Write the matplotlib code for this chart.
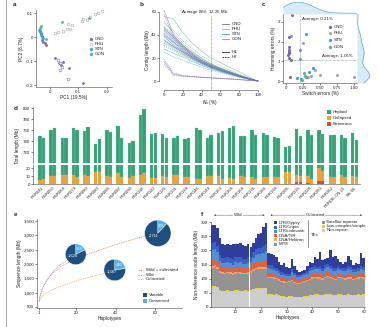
import numpy as np
import matplotlib
matplotlib.use('Agg')
import matplotlib.pyplot as plt
from matplotlib.lines import Line2D
from matplotlib.patches import Rectangle

W, H = 379, 327

# ---- panel a: PCA ----
a_cnd_x = [-0.029, -0.024, -0.018, -0.012, 0.018, 0.047, 0.068, 0.118, 0.040, 0.033]
a_cnd_y = [-0.012, -0.020, -0.026, -0.033, -0.089, -0.103, -0.130, -0.190, -0.115, -0.108]
a_cnd2_x = [0.029, 0.035, 0.041, 0.035, 0.065]
a_cnd2_y = [-0.096, -0.110, -0.124, -0.137, -0.175]
a_phu_x = [0.018, 0.029, 0.047, 0.059, 0.071, 0.065, 0.077, 0.112, 0.118, 0.130, 0.141, 0.159, 0.171, 0.183]
a_phu_y = [0.015, 0.019, 0.025, 0.032, 0.032, 0.053, 0.050, 0.067, 0.074, 0.071, 0.082, 0.096, 0.101, 0.108]
a_stn_x = [-0.038, -0.036, -0.035, -0.033, -0.031, -0.030, -0.028, -0.027, -0.025, -0.034]
a_stn_y = [0.030, 0.024, 0.020, 0.016, 0.012, 0.008, 0.005, 0.002, -0.002, 0.027]
a_gon_x = [-0.033, 0.041, 0.139, -0.012, -0.036]
a_gon_y = [0.046, 0.062, 0.079, -0.010, 0.036]

# ---- panel b: Nx curves ----
b_nx = [0, 10, 20, 30, 40, 50, 60, 70, 80, 90, 100]
b_cnd = [[62, 40, 31, 24, 18, 14, 11, 8, 5, 2.5, 0],
         [58, 38, 30, 23, 17, 13, 10, 7.5, 4.5, 2, 0],
         [44, 36, 29, 22, 17, 13, 10, 7, 4, 2, 0],
         [41, 34, 27, 21, 16, 12, 9, 6.5, 4, 1.8, 0],
         [36, 30, 25, 20, 16, 12.5, 9.5, 7, 4.5, 2, 0],
         [19, 7, 5, 4, 3.5, 3, 2.5, 2, 1.5, 0.8, 0],
         [17, 6, 4.5, 3.8, 3.2, 2.8, 2.3, 1.8, 1.2, 0.6, 0],
         [15, 5, 4, 3.5, 3, 2.5, 2, 1.5, 1, 0.5, 0]]
b_phu = [[52, 42, 33, 26, 20, 15, 11, 8, 5, 2.5, 0],
         [48, 40, 31, 24, 19, 14, 10.5, 7.5, 4.5, 2, 0],
         [46, 37, 29, 23, 18, 14, 11, 8, 5, 2.2, 0],
         [43, 35, 28, 22, 17, 13.5, 10, 7, 4.2, 1.9, 0],
         [40, 33, 26, 21, 16, 12, 9, 6.5, 4, 1.8, 0],
         [38, 32, 25, 20, 15.5, 12, 9.5, 7, 4.3, 2, 0],
         [34, 29, 24, 19, 15, 11.5, 8.5, 6, 3.8, 1.7, 0],
         [30, 26, 22, 18, 14, 11, 8.5, 6, 3.6, 1.6, 0]]
b_stn = [[47, 38, 30, 23, 18, 14, 10.5, 7.5, 4.5, 2, 0],
         [42, 34, 27, 21, 16.5, 12.5, 9.5, 6.8, 4.2, 1.9, 0],
         [39, 31, 26, 21, 16, 12, 9, 6.5, 4, 1.8, 0],
         [33, 28, 23, 19, 15, 11.5, 8.8, 6.3, 4, 1.8, 0],
         [28, 24, 21, 17, 13.5, 10.5, 8, 5.8, 3.6, 1.6, 0],
         [25, 21, 18, 15, 12, 9.5, 7.3, 5.3, 3.3, 1.5, 0]]
b_gon = [[56, 54, 42, 33, 26, 20, 16, 12, 8, 3.5, 0],
         [50, 44, 35, 28, 22, 17, 13, 9.5, 6, 2.8, 0],
         [45, 39, 31, 25, 19.5, 15, 11.5, 8.3, 5.2, 2.3, 0],
         [40, 34, 28, 22, 17.5, 13.5, 10.5, 7.5, 4.6, 2, 0],
         [35, 30, 25, 20, 16, 12.5, 9.5, 7, 4.3, 1.9, 0],
         [31, 27, 23, 19, 15, 11.5, 9, 6.5, 4, 1.8, 0]]
b_n50 = 50

# ---- panel c: phasing errors ----
c_cnd_x = [0.093, 0.039, 0.040, 0.038, 0.041, 0.034, 0.044, 0.074, 0.059, 0.045]
c_cnd_y = [3.35, 2.22, 1.74, 1.57, 1.40, 1.32, 1.15, 1.07, 0.20, 1.48]
c_phu_x = [0.074, 0.255, 0.43, 0.50, 0.746, 1.00, 0.33, 0.37]
c_phu_y = [2.28, 1.91, 0.56, 0.30, 0.30, 0.22, 0.20, 0.28]
c_stn_x = [0.29, 0.157, 0.338, 0.40, 0.30, 0.22]
c_stn_y = [2.37, 0.14, 0.47, 0.64, 0.18, 0.12]
c_gon_x = [0.206, 0.206, 0.27, 0.23, 0.28]
c_gon_y = [1.57, 1.10, 0.42, 0.05, 0.28]
c_avg_switch = 0.21
c_avg_hamming = 1.05

# ---- panel d: assembly length per accession ----
d_acc = ['PGR041', 'PGR050', 'PGR068', 'PGR079', 'PGR080', 'PGR083', 'PGR086', 'PGR087',
         'PGR090', 'PGR118', 'PGR120', 'PGR126', 'PGR131', 'PGR139', 'PGR146', 'PGR149',
         'PGR153', 'PGR158', 'PGR168', 'PGR176', 'PGR184', 'PGR194', 'PGR205', 'PGR215',
         'PGR228', 'PGR250', 'PGR262', 'PGRDE-CN-15', 'Sth-66']
d_tot_h1 = [749, 760, 745, 763, 758, 735, 760, 767, 737, 788, 752, 752, 746, 743, 764,
            745, 754, 763, 749, 760, 755, 748, 730, 762, 760, 760, 751, 751, 754]
d_tot_h2 = [745, 763, 746, 761, 766, 743, 757, 746, 740, 799, 754, 745, 749, 746, 760,
            751, 758, 767, 749, 751, 751, 746, 731, 749, 751, 753, 751, 745, 742]
d_col_h1 = [4, 10, 11, 11, 11, 14, 10, 13, 7, 11, 7, 9, 11, 8, 6, 9, 9, 7, 9, 8, 8, 8,
            14, 9, 9, 17, 8, 11, 9]
d_col_h2 = [6, 10, 11, 8, 9, 14, 8, 8, 9, 13, 7, 8, 11, 8, 6, 9, 6, 6, 8, 6, 8, 8, 14,
            7, 6, 12, 8, 8, 8]
d_err_h1 = [0.4, 0.4, 0.4, 0.4, 0.4, 0.4, 0.4, 0.4, 0.4, 0.4, 0.4, 0.4, 0.4, 0.4, 0.4,
            0.4, 0.4, 0.4, 0.4, 0.4, 0.4, 0.4, 0.4, 2.5, 1.0, 3.5, 0.4, 0.4, 0.4]
d_err_h2 = [0.4, 0.4, 0.4, 0.4, 0.4, 0.4, 0.4, 0.4, 0.4, 0.4, 0.4, 0.4, 0.4, 0.4, 0.4,
            0.4, 0.4, 0.4, 0.4, 0.4, 0.4, 0.4, 0.4, 3.0, 0.6, 4.0, 0.4, 0.4, 0.4]

# ---- panel e: pangenome growth ----
e_all_n = [1, 2, 3, 5, 8, 12, 16, 20, 25, 30, 35, 40, 45, 50, 55, 58]
e_all_v = [700, 980, 1180, 1420, 1680, 1900, 2060, 2180, 2320, 2440, 2560, 2670, 2780, 2880, 2970, 3030]
e_wild_n = [1, 2, 3, 5, 8, 12, 16, 19]
e_wild_v = [700, 1000, 1200, 1450, 1730, 1980, 2150, 2250]
e_cult_n = [1, 2, 3, 5, 8, 12, 16, 20, 25, 30, 35, 38]
e_cult_v = [700, 820, 900, 1000, 1110, 1220, 1320, 1410, 1510, 1600, 1680, 1730]
e_pie_n = [19.7, 39.5, 61.4]
e_pie_v = [2340, 1791, 3072]
e_variable = [1626, 1387, 2711]
e_conserved = [359, 410, 365]
e_pie_r = [13, 13.5, 16.5]

# ---- panel f: non-reference node composition ----
f_nonrep = [70, 72, 68, 58, 56, 55, 57, 56, 55, 58, 57, 56, 55, 57, 56, 58, 62, 64, 65, 66, 64, 66,
            44, 43, 42, 44, 40, 37, 36, 35, 36, 38, 35, 34, 33, 35, 36, 37, 40, 42, 43, 44, 42, 41,
            43, 45, 44, 42, 40, 43, 44, 42, 41, 43, 42, 40, 41, 43, 42, 44]
f_lowc = [2.5, 2.5, 2.4, 2.2, 2.0, 2.0, 2.1, 2.0, 2.0, 2.1, 2.0, 2.1, 2.0, 2.0, 2.1, 2.0, 2.2, 2.3, 2.4, 2.4, 2.5, 2.5,
          2.0, 2.0, 1.9, 1.9, 1.8, 1.8, 1.7, 1.7, 1.7, 1.9, 1.8, 1.7, 1.7, 1.8, 1.8, 1.8, 1.9, 2.0, 2.0, 2.0, 2.0, 1.9,
          2.0, 2.1, 2.0, 1.9, 1.9, 2.0, 2.0, 1.9, 1.9, 2.0, 2.0, 1.9, 1.9, 2.0, 2.0, 2.0]
f_sat = [64, 63, 62, 58, 57, 56, 58, 57, 55, 56, 58, 57, 56, 55, 57, 58, 62, 64, 63, 62, 64, 65,
         55, 56, 54, 52, 50, 48, 47, 46, 48, 50, 47, 45, 46, 47, 48, 50, 52, 54, 55, 53, 54, 52,
         55, 56, 54, 53, 52, 55, 56, 54, 52, 53, 55, 52, 53, 54, 55, 53]
f_mite = [2.2, 2.2, 2.1, 2.0, 2.0, 1.9, 2.0, 2.0, 1.9, 2.0, 2.0, 2.0, 1.9, 1.9, 2.0, 2.0, 2.1, 2.1, 2.2, 2.2, 2.2, 2.3,
          1.6, 1.6, 1.5, 1.5, 1.4, 1.4, 1.4, 1.3, 1.3, 1.5, 1.4, 1.3, 1.3, 1.4, 1.4, 1.4, 1.5, 1.5, 1.6, 1.5, 1.6, 1.5,
          1.6, 1.6, 1.5, 1.5, 1.5, 1.6, 1.6, 1.5, 1.5, 1.6, 1.5, 1.5, 1.5, 1.5, 1.6, 1.5]
f_heli = [7, 7, 6, 6, 6, 6, 6, 6, 5, 6, 6, 6, 6, 5, 6, 6, 7, 7, 7, 7, 7, 7,
          5, 5, 5, 4, 4, 4, 4, 4, 4, 5, 4, 4, 4, 4, 4, 4, 5, 5, 5, 5, 5, 5,
          5, 5, 5, 4, 5, 5, 4, 4, 5, 5, 5, 4, 4, 4, 5, 5]
f_tir = [22, 23, 21, 18, 17, 18, 17, 17, 16, 18, 17, 18, 17, 16, 17, 18, 19, 20, 21, 20, 22, 23,
         13, 12, 12, 11, 10, 10, 11, 10, 9, 12, 10, 9, 9, 10, 10, 11, 12, 12, 13, 12, 13, 12,
         13, 14, 12, 11, 12, 12, 10, 11, 12, 13, 12, 11, 10, 11, 13, 12]
f_ltru = [34, 36, 32, 18, 15, 15, 16, 15, 15, 16, 15, 16, 15, 15, 16, 16, 20, 24, 26, 27, 30, 32,
          16, 15, 15, 14, 13, 12, 12, 11, 11, 14, 12, 11, 10, 11, 11, 12, 14, 14, 15, 15, 16, 15,
          16, 17, 15, 14, 14, 15, 12, 13, 14, 15, 14, 13, 12, 13, 15, 14]
f_copia = [24, 25, 22, 20, 18, 18, 19, 18, 18, 19, 18, 19, 18, 18, 19, 18, 20, 22, 22, 23, 24, 26,
           12, 12, 11, 10, 9, 8, 8, 8, 7, 10, 8, 7, 7, 8, 8, 9, 10, 10, 11, 10, 11, 10,
           12, 12, 11, 10, 10, 11, 9, 9, 10, 11, 10, 9, 9, 9, 11, 10]
f_total = [290, 288, 280, 245, 222, 218, 222, 220, 222, 224, 222, 225, 220, 215, 222, 212, 225, 245, 258, 260, 282, 298,
           190, 188, 182, 175, 160, 150, 155, 140, 138, 170, 145, 130, 125, 128, 130, 145, 160, 155, 175, 170, 195, 165,
           168, 172, 200, 175, 180, 168, 158, 150, 160, 180, 165, 150, 155, 152, 190, 172]
f_n_wild = 22

# colours
C_CND, C_PHU, C_STN, C_GON = '#7a68b3', '#a8a8a8', '#3a9fd8', '#55b486'
TXT = '#222222'

plt.rcParams['font.family'] = ['Liberation Sans', 'DejaVu Sans']
plt.rcParams.update({
    'font.size': 3.2, 'axes.labelsize': 3.4, 'xtick.labelsize': 3.2, 'ytick.labelsize': 3.2,
    'axes.linewidth': 0.4, 'xtick.major.width': 0.4, 'ytick.major.width': 0.4,
    'xtick.major.size': 1.2, 'ytick.major.size': 1.2, 'xtick.major.pad': 0.8, 'ytick.major.pad': 0.8,
    'axes.labelpad': 1.2, 'axes.spines.top': False, 'axes.spines.right': False,
    'text.color': TXT, 'axes.labelcolor': TXT, 'xtick.color': TXT, 'ytick.color': TXT,
    'axes.edgecolor': '#444444',
})

fig = plt.figure(figsize=(W / 100, H / 100), dpi=100)


def add_ax(x0, y0, x1, y1):
    return fig.add_axes([x0 / W, 1 - y1 / H, (x1 - x0) / W, (y1 - y0) / H])


def fpt(x, y):
    return x / W, 1 - y / H


def leg_marker(x, y, color, label, hollow=False):
    px, py = fpt(x, y)
    fig.add_artist(Line2D([px], [py], marker='o', ms=2.0, mew=0.4, mec=color,
                          mfc='white' if hollow else color, transform=fig.transFigure))
    fig.text(px + 4 / W, py, label, va='center', ha='left', fontsize=3.2)


def leg_line(x, y, color, label, ls='-', length=7):
    x0, py = fpt(x, y)
    x1, _ = fpt(x + length, y)
    fig.add_artist(Line2D([x0, x1], [py, py], color=color, lw=0.6, ls=ls, transform=fig.transFigure))
    fig.text(x1 + 2.5 / W, py, label, va='center', ha='left', fontsize=3.2)


def leg_square(x, y, color, label, size=4):
    px, py = fpt(x, y)
    fig.add_artist(Rectangle((px - size / 2 / W, py - size / 2 / H), size / W, size / H,
                             facecolor=color, edgecolor='none', transform=fig.transFigure))
    fig.text(px + (size / 2 + 2) / W, py, label, va='center', ha='left', fontsize=3.2)


def panel_letter(x, y, s):
    px, py = fpt(x, y)
    fig.text(px, py, s, fontsize=4.6, fontweight='bold', va='center', ha='left')


# page rule on the left
fig.add_artist(Line2D([6 / W, 6 / W], [0, 1], color='#9a9a9a', lw=0.6,
                      transform=fig.transFigure))

# ===== a =====
ax = add_ax(36, 10, 112, 87)
ax.scatter(a_phu_x, a_phu_y, s=4, facecolor='white', edgecolor=C_PHU, lw=0.4, zorder=2)
ax.scatter(a_stn_x, a_stn_y, s=4, color=C_STN, lw=0, zorder=3)
ax.scatter(a_cnd_x, a_cnd_y, s=4, color=C_CND, lw=0, zorder=3)
ax.scatter(a_cnd2_x, a_cnd2_y, s=4, facecolor='white', edgecolor=C_CND, lw=0.4, zorder=3)
ax.scatter(a_gon_x, a_gon_y, s=4, color=C_GON, lw=0, zorder=4)
ax.set_xlim(-0.049, 0.219)
ax.set_ylim(-0.208, 0.1125)
ax.set_xticks([0, 0.1, 0.2])
ax.set_xticklabels(['0', '0.1', '0.2'])
ax.set_yticks([-0.2, -0.1, 0, 0.1])
ax.set_yticklabels(['-0.2', '-0.1', '0', '0.1'])
ax.set_xlabel('PC1 (19.5%)')
ax.set_ylabel('PC2 (8.7%)')
panel_letter(13, 4, 'a')
leg_marker(91, 39, C_CND, 'CND')
leg_marker(91, 44, C_PHU, 'PHU', hollow=True)
leg_marker(91, 49, C_STN, 'STN')
leg_marker(91, 54, C_GON, 'GON')

# ===== b =====
ax = add_ax(159, 10, 262, 90)
for group, col in [(b_phu, C_PHU), (b_stn, C_STN), (b_gon, C_GON), (b_cnd, C_CND)]:
    for k, curve in enumerate(group):
        ax.plot(b_nx, curve, color=col, lw=0.35, alpha=0.85, ls='-' if k % 2 == 0 else (0, (3, 1.5)))
ax.plot([b_n50, b_n50], [-8, 57], color='#444444', lw=0.4, ls=(0, (1.2, 1.2)))
ax.text(43, 60, 'Average $N_{50}$: 12.25 Mb', ha='center', va='center', fontsize=3.2)
ax.set_xlim(-5.3, 104.3)
ax.set_ylim(-7.8, 61.7)
ax.spines['left'].set_bounds(0, 60)
ax.spines['bottom'].set_bounds(0, 100)
ax.set_xticks([0, 20, 40, 60, 80, 100])
ax.set_yticks([0, 20, 40, 60])
ax.set_xlabel('$N_x$ (%)')
ax.set_ylabel('Contig length (Mb)')
panel_letter(140, 4, 'b')
leg_line(222, 24, C_CND, 'CND')
leg_line(222, 29, C_PHU, 'PHU')
leg_line(222, 34, C_STN, 'STN')
leg_line(222, 39, C_GON, 'GON')
leg_line(222, 52, '#333333', 'H1')
leg_line(222, 57, '#333333', 'H2', ls=(0, (2, 1)))

# ===== c =====
ax = add_ax(283, 14, 357, 83)
ax.scatter(c_phu_x, c_phu_y, s=5, color=C_PHU, lw=0, zorder=3)
ax.scatter(c_cnd_x, c_cnd_y, s=5, color=C_CND, lw=0, zorder=3)
ax.scatter(c_stn_x, c_stn_y, s=5, color=C_STN, lw=0, zorder=3)
ax.scatter(c_gon_x, c_gon_y, s=5, color=C_GON, lw=0, zorder=3)
ax.axvline(c_avg_switch, color='#666666', lw=0.4, ls=(0, (1.2, 1.2)))
ax.axhline(c_avg_hamming, color='#666666', lw=0.4, ls=(0, (1.2, 1.2)))
ax.text(c_avg_switch + 0.03, 3.15, 'Average: 0.21%', fontsize=3.2, va='center')
ax.text(0.98, c_avg_hamming + 0.1, 'Average: 1.05%', fontsize=3.2, va='bottom', ha='right')
ax.set_xlim(-0.044, 1.044)
ax.set_ylim(-0.1, 3.4)
ax.set_xticks([0, 0.25, 0.5, 0.75, 1.0])
ax.set_xticklabels(['0', '0.25', '0.50', '0.75', '1.00'])
ax.set_yticks([0, 1, 2, 3])
ax.set_xlabel('Switch errors (%)')
ax.set_ylabel('Hamming errors (%)')
panel_letter(262, 5, 'c')
leg_marker(330, 27, C_CND, 'CND')
leg_marker(330, 33, C_PHU, 'PHU')
leg_marker(330, 40, C_STN, 'STN')
leg_marker(330, 47, C_GON, 'GON')

all_sw = np.array(c_cnd_x + c_phu_x + c_stn_x + c_gon_x)
all_hm = np.array(c_cnd_y + c_phu_y + c_stn_y + c_gon_y)


def kde(samples, grid, bw):
    d = (grid[:, None] - samples[None, :]) / bw
    return np.exp(-0.5 * d ** 2).sum(axis=1) / (len(samples) * bw * np.sqrt(2 * np.pi))


gx = np.linspace(-0.044, 1.044, 200)
dx = kde(all_sw, gx, 0.14)
axt = add_ax(283, 2, 357, 14)
axt.fill_between(gx, 0, dx, color='#d7ebf7', lw=0)
axt.plot(gx, dx, color='#5aa6d8', lw=0.5)
axt.set_xlim(-0.044, 1.044)
axt.set_ylim(0, dx.max() * 1.02)
axt.axis('off')

gy = np.linspace(-0.1, 3.4, 200)
dy = kde(all_hm, gy, 0.3)
axr = add_ax(357, 14, 370, 83)
axr.fill_betweenx(gy, 0, dy, color='#d7ebf7', lw=0)
axr.plot(dy, gy, color='#5aa6d8', lw=0.5)
axr.set_ylim(-0.1, 3.4)
axr.set_xlim(0, dy.max() * 1.02)
axr.axis('off')

# ===== d =====
pos = np.arange(len(d_acc))
off, bw = 0.16, 0.3
axu = add_ax(33, 107, 360, 163)
axl = add_ax(33, 165, 360, 184)
C_HAP, C_COL, C_ERR = '#33a276', '#eba23a', '#e0473a'
for axd in (axu, axl):
    for sgn, tot, col, err in [(-1, d_tot_h1, d_col_h1, d_err_h1), (1, d_tot_h2, d_col_h2, d_err_h2)]:
        tot, col, err = np.array(tot), np.array(col), np.array(err)
        xs = pos + sgn * off
        axd.bar(xs, err, bw, color=C_ERR, lw=0)
        axd.bar(xs, col, bw, bottom=err, color=C_COL, lw=0)
        axd.bar(xs, tot - col - err, bw, bottom=col + err, color=C_HAP, edgecolor='#8fd0b2', lw=0.2)
    axd.set_xlim(-0.78, 28.5)
axu.set_ylim(700, 802)
axu.spines['bottom'].set_visible(False)
axu.set_xticks([])
axu.set_yticks([720, 740, 760, 780, 800])
axl.set_ylim(0, 23.75)
axl.set_yticks([0, 10, 20])
axl.set_xticks(pos)
axl.set_xticklabels(d_acc, rotation=45, ha='right', rotation_mode='anchor', fontsize=3.0)
axl.tick_params(axis='x', length=0, pad=1.5)
fig.text(17 / W, 1 - 146 / H, 'Total length (Mb)', rotation=90, va='center', ha='center', fontsize=3.4)
panel_letter(14, 108, 'd')
leg_square(329, 112, C_HAP, 'Haploid')
leg_square(329, 118, C_COL, 'Collapsed')
leg_square(329, 124, C_ERR, 'Erroneous')

# ===== e =====
ax = add_ax(37, 219, 182, 308)
ax.plot(e_all_n, e_all_v, color='#e8735a', lw=0.5, ls=(0, (1.5, 1.2)))
ax.plot(e_wild_n, e_wild_v, color='#8d8fd8', lw=0.5, ls=(0, (1.5, 1.2)))
ax.plot(e_cult_n, e_cult_v, color='#f0a060', lw=0.5, ls=(0, (1.5, 1.2)))
ax.set_xlim(0, 73.7)
ax.set_ylim(465, 3570)
ax.set_xticks([1, 20, 40, 60])
ax.set_yticks([500, 1000, 1500, 2000, 2500, 3000, 3500])
ax.set_yticklabels(['500', '1,000', '1,500', '2,000', '2,500', '3,000', '3,500'])
ax.set_xlabel('Haplotypes')
ax.set_ylabel('Sequence length (Mb)')
panel_letter(14, 215, 'e')
C_VAR, C_CON = '#1e4f7e', '#55b2e6'
inv = fig.transFigure.inverted()
for n, v, var, con, r in zip(e_pie_n, e_pie_v, e_variable, e_conserved, e_pie_r):
    cx, cy = inv.transform(ax.transData.transform((n, v)))
    pa = fig.add_axes([cx - r / W, cy - r / H, 2 * r / W, 2 * r / H])
    wedges, _ = pa.pie([con, var], colors=[C_CON, C_VAR], startangle=90, counterclock=False,
                       wedgeprops=dict(edgecolor='white', linewidth=0.3))
    pa.set_aspect('equal')
    ang = np.deg2rad(90 - 180 * con / (con + var))
    pa.text(0.62 * np.cos(ang), 0.62 * np.sin(ang), f'{con:,}', color='white', fontsize=3.0,
            ha='center', va='center')
    pa.text(-0.3, -0.15, f'{var:,}', color='white', fontsize=3.0, ha='center', va='center')
leg_line(138, 270, '#e8735a', 'Wild + cultivated', ls=(0, (1.5, 1.2)), length=5)
leg_line(138, 275, '#8d8fd8', 'Wild', ls=(0, (1.5, 1.2)), length=5)
leg_line(138, 279, '#f0a060', 'Cultivated', ls=(0, (1.5, 1.2)), length=5)
leg_square(145, 295, C_VAR, 'Variable', size=3.5)
leg_square(145, 301, C_CON, 'Conserved', size=3.5)

# ===== f =====
ax = add_ax(211, 222, 365, 307)
hx = np.arange(1, len(f_total) + 1)
layers = [
    ('Non-repeat', f_nonrep, '#cdcdcd'),
    ('Low-complex/simple', f_lowc, '#e2d63c'),
    ('Satellite repeats', f_sat, '#939393'),
    ('MITE', f_mite, '#4fb39c'),
    ('DNA/Helitron', f_heli, '#f2a070'),
    ('DNA/TIR', f_tir, '#e2603c'),
    ('LTR/unknown', f_ltru, '#4b93d6'),
    ('LTR/Copia', f_copia, '#3f5fc6'),
]
bottom = np.zeros(len(hx))
for name, vals, col in layers:
    ax.bar(hx, vals, 1.0, bottom=bottom, color=col, lw=0)
    bottom = bottom + np.array(vals)
ax.bar(hx, np.array(f_total) - bottom, 1.0, bottom=bottom, color='#2f3e9c', lw=0)
ax.set_xlim(0.5, len(hx) + 0.5)
ax.set_ylim(0, 300)
ax.set_xticks([10, 20, 30, 40, 50, 60])
ax.set_yticks([0, 50, 100, 150, 200, 250, 300])
ax.set_xlabel('Haplotypes')
ax.set_ylabel('Non-reference node length (Mb)')
panel_letter(201, 215, 'f')

# wild / cultivated bracket above panel f
ytop = 1.08
ax.annotate('', xy=(0.5, ytop), xytext=(f_n_wild + 0.5, ytop), xycoords=('data', 'axes fraction'),
            arrowprops=dict(arrowstyle='<|-|>', lw=0.4, ls=(0, (1, 1)), color='#555555',
                            mutation_scale=2), annotation_clip=False)
ax.annotate('', xy=(f_n_wild + 0.5, ytop), xytext=(len(hx) + 0.5, ytop), xycoords=('data', 'axes fraction'),
            arrowprops=dict(arrowstyle='<|-|>', lw=0.4, ls=(0, (1, 1)), color='#555555',
                            mutation_scale=2), annotation_clip=False)
ax.text(f_n_wild / 2, ytop, 'Wild', ha='center', va='center', fontsize=3.2,
        transform=ax.get_xaxis_transform(), bbox=dict(fc='white', ec='none', pad=0.3))
ax.text((f_n_wild + len(hx)) / 2, ytop, 'Cultivated', ha='center', va='center', fontsize=3.2,
        transform=ax.get_xaxis_transform(), bbox=dict(fc='white', ec='none', pad=0.3))

te_items = [('LTR/Gypsy', '#2f3e9c'), ('LTR/Copia', '#3f5fc6'), ('LTR/unknown', '#4b93d6'),
            ('DNA/TIR', '#e2603c'), ('DNA/Helitron', '#f2a070'), ('MITE', '#4fb39c')]
for k, (lab, col) in enumerate(te_items):
    leg_square(275, 223 + 4.2 * k, col, lab, size=3)
fig.add_artist(Line2D([308 / W, 308 / W], [1 - 220 / H, 1 - 247 / H], color='#444444', lw=0.4,
                      transform=fig.transFigure))
fig.text(311 / W, 1 - 235 / H, 'TEs', va='center', ha='left', fontsize=3.2)
other_items = [('Satellite repeats', '#939393'), ('Low-complex/simple', '#e2d63c'), ('Non-repeat', '#cdcdcd')]
for k, (lab, col) in enumerate(other_items):
    leg_square(323, 222 + 4.0 * k, col, lab, size=3)

fig.savefig('out.png', dpi=100)
